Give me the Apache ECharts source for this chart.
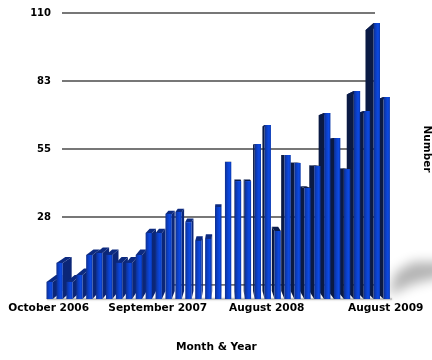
<!DOCTYPE html>
<html>
<head>
<meta charset="utf-8">
<style>html,body{margin:0;padding:0;background:#fff}#chart{width:432px;height:360px}</style>
<script src="https://cdn.jsdelivr.net/npm/echarts@6/dist/echarts.min.js"></script>
</head>
<body>
<div id="chart"></div>
<script>
var months = ['October 2006','November 2006','December 2006','January 2007','February 2007','March 2007','April 2007',
    'May 2007','June 2007','July 2007','August 2007','September 2007','October 2007','November 2007','December 2007',
    'January 2008','February 2008','March 2008','April 2008','May 2008','June 2008','July 2008','August 2008',
    'September 2008','October 2008','November 2008','December 2008','January 2009','February 2009','March 2009',
    'April 2009','May 2009','June 2009','July 2009','August 2009'];
var counts = [6.9,14.6,6.9,9.7,17.8,18.6,17.8,14.6,14.6,17.8,26.7,26.7,34.4,35.2,31.1,23.5,24.3,37.2,55.4,47.7,47.7,
    62.7,70.4,27.5,58.2,55,44.9,53.8,75.2,65.1,52.6,84.1,76,111.6,81.7];
var labelled = [0, 11, 22, 34];
var tickStep = 27.5, tickMax = 110;

// the bars go back towards one vanishing point
var vanishX = 225, vanishY = 155, depth = 0.055;
var font = '"DejaVu Sans", sans-serif';

function renderBar(params, api) {
    var i = api.value(0);
    var top = api.coord([i, api.value(1)]);
    var base = api.coord([i, 0]);
    var w = api.size([1, 0])[0] * 0.64;
    var l = top[0] - w / 2, r = top[0] + w / 2;
    var edge = top[0] < vanishX ? r : l;
    var dx = (vanishX - edge) * depth;
    var dyTop = (vanishY - top[1]) * depth;
    var dyBase = (vanishY - base[1]) * depth;
    var left = top[0] < vanishX;
    var z = 100 - Math.abs(i - 18) * 2;
    var side = left ? '#0b2678' : '#0a1a44';
    return {
        type: 'group',
        children: [{
            type: 'polygon', z2: z,
            shape: {points: [[edge, top[1]], [edge + dx, top[1] + dyTop], [edge + dx, base[1] + dyBase], [edge, base[1]]]},
            style: {fill: side}
        }, {
            type: 'polygon', z2: z,
            shape: {points: [[l, top[1]], [l + dx, top[1] + dyTop], [r + dx, top[1] + dyTop], [r, top[1]]]},
            style: {fill: left ? '#0c2a80' : '#0a1c4c'}
        }, {
            type: 'rect', z2: z + 1,
            shape: {x: l, y: top[1], width: w, height: base[1] - top[1]},
            style: {fill: new echarts.graphic.LinearGradient(0, 0, 1, 0, [
                {offset: 0, color: '#102f8c'},
                {offset: 0.35, color: '#0b3ec2'},
                {offset: 0.7, color: '#0c4ae4'},
                {offset: 1, color: '#0a38ac'}
            ])}
        }]
    };
}

var option = {
    animation: false,
    grid: [
        {left: 62, width: 313, top: 13, height: 272},
        {left: 44.7, width: 347, top: 27, height: 272}
    ],
    xAxis: [{
        gridIndex: 0, type: 'category', data: months, boundaryGap: false, show: false
    }, {
        gridIndex: 1, type: 'category', data: months,
        axisLine: {show: false}, axisTick: {show: false},
        axisLabel: {
            margin: 4,
            interval: function (i) { return labelled.indexOf(i) >= 0; },
            fontFamily: font, fontWeight: 'bold', fontSize: 10.6, color: '#000',
            padding: [0, 2, 0, 0]
        }
    }],
    yAxis: [{
        gridIndex: 0, type: 'value', min: 0, max: tickMax, interval: tickStep,
        axisLine: {show: false}, axisTick: {show: false},
        splitLine: {showMinLine: false, lineStyle: {color: '#4a4a4a', width: 1.5}},
        axisLabel: {
            margin: 11, showMinLabel: false, padding: [3, 0, 0, 0],
            formatter: function (v) { return Math.round(v); },
            fontFamily: font, fontWeight: 'bold', fontSize: 10, color: '#000'
        }
    }, {
        gridIndex: 1, type: 'value', min: 0, max: tickMax, interval: tickStep, show: false
    }],
    graphic: [
        // drop shadow right of the last bar, the shape itself sits off the page
        {type: 'polygon', z: -1, shape: {points: [[1388, 296], [1396, 272], [1413, 262], [1445, 262], [1445, 276], [1413, 284]]},
            style: {fill: '#bbb', shadowBlur: 12, shadowColor: '#b4b4b4', shadowOffsetX: -1000}},
        {type: 'rect', z: -1, shape: {x: 47, y: 298, width: 345, height: 2},
            style: {fill: '#c4c4c4', shadowBlur: 2, shadowColor: '#c4c4c4'}},
        {type: 'text', left: 176, top: 342,
            style: {text: 'Month & Year', fontFamily: font, fontWeight: 'bold', fontSize: 10.6, fill: '#000'}},
        {type: 'text', x: 427, y: 149, rotation: -Math.PI / 2,
            style: {text: 'Number', align: 'center', verticalAlign: 'middle', fontFamily: font, fontWeight: 'bold', fontSize: 10.5, fill: '#000'}}
    ],
    series: [{
        // back line at zero, only seen behind the later bars
        type: 'line', z: 1, xAxisIndex: 0, yAxisIndex: 0, symbol: 'none', silent: true,
        data: months.map(function (m, i) { return i >= 12 ? 0 : null; }),
        lineStyle: {color: '#4a4a4a', width: 1.5}
    }, {
        type: 'custom', z: 3, xAxisIndex: 1, yAxisIndex: 1, renderItem: renderBar,
        encode: {x: 0, y: 1},
        data: counts.map(function (c, i) { return [i, c]; })
    }]
};

var chart = echarts.init(document.getElementById('chart'));
chart.setOption(option);
</script>
</body>
</html>
